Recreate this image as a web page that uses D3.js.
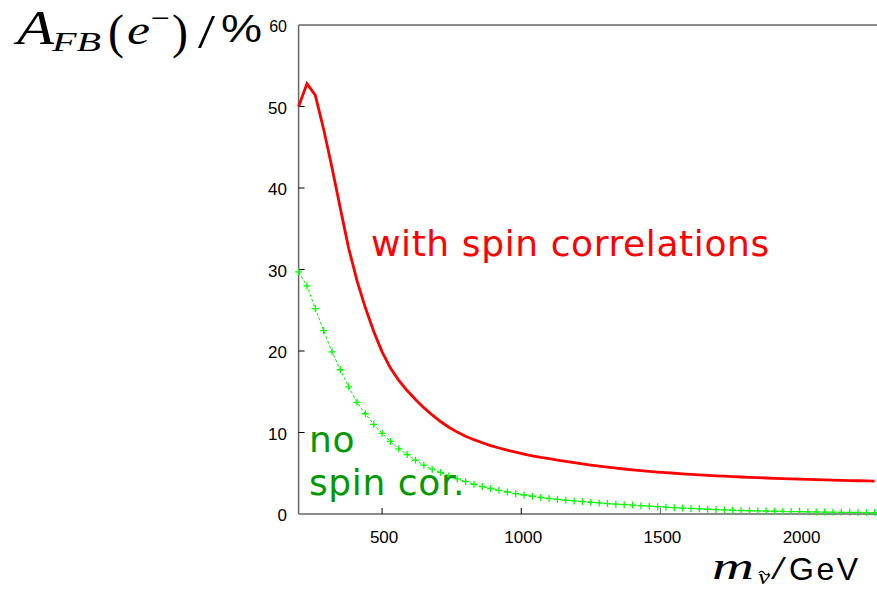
<!DOCTYPE html>
<html>
<head>
<meta charset="utf-8">
<script src="https://cdn.jsdelivr.net/npm/d3@7"></script>
<style>
  body { margin: 0; background: #fff; }
  svg { display: block; }
</style>
</head>
<body>
<svg id="chart" width="877" height="589"></svg>
<script>
// sneutrino mass grid (GeV), one point every 30 GeV
var masses = [200,230,260,290,320,350,380,410,440,470,500,530,560,590,620,650,680,710,740,770,
    800,830,860,890,920,950,980,1010,1040,1070,1100,1130,1160,1190,1220,1250,1280,1310,1340,1370,
    1400,1430,1460,1490,1520,1550,1580,1610,1640,1670,1700,1730,1760,1790,1820,1850,1880,1910,1940,1970,
    2000,2030,2060,2090,2120,2150,2180,2210,2240,2270];

// A_FB with spin correlations (%)
var withSpin = [50.0,52.8,51.4,47.2,42.5,37.5,32.6,28.6,25.3,22.4,19.9,17.9,16.4,15.15,14.05,13.05,12.15,11.35,10.65,10.05,
    9.55,9.12,8.74,8.4,8.1,7.83,7.58,7.35,7.14,6.95,6.8,6.62,6.45,6.3,6.15,6.0,5.87,5.75,5.63,5.52,
    5.42,5.32,5.23,5.15,5.07,5.0,4.93,4.87,4.81,4.75,4.69,4.64,4.59,4.54,4.5,4.46,4.42,4.38,4.34,4.3,
    4.27,4.24,4.21,4.18,4.15,4.12,4.1,4.08,4.06,4.04];

// A_FB without spin correlations (%)
var noSpin = [29.7,28.0,25.2,22.5,19.9,17.7,15.6,13.7,12.3,11.0,9.9,8.9,8.0,7.3,6.6,6.0,5.5,5.1,4.7,4.3,
    4.0,3.65,3.37,3.13,2.9,2.7,2.5,2.33,2.18,2.03,1.9,1.79,1.69,1.6,1.52,1.44,1.36,1.28,1.21,1.15,
    1.09,1.02,0.96,0.9,0.84,0.78,0.73,0.68,0.63,0.58,0.54,0.5,0.46,0.43,0.4,0.38,0.36,0.34,0.32,0.3,
    0.28,0.27,0.25,0.24,0.22,0.21,0.2,0.19,0.18,0.17];

var xTicks = [500, 1000, 1500, 2000];
var yTicks = [0, 10, 20, 30, 40, 50, 60];

var svg = d3.select('#chart');
var axisColor = '#666';
var sans = 'Liberation Sans, Arial, sans-serif';
var serif = 'Liberation Serif, Times New Roman, serif';

var xScale = d3.scaleLinear().domain([200, 2500]).range([298.6, 298.6 + 2300*0.2783]);
var yScale = d3.scaleLinear().domain([0, 60]).range([514, 25]);

// frame: left, bottom, top
svg.append('line').attr('x1', xScale(200)).attr('x2', xScale(200))
    .attr('y1', yScale(0)).attr('y2', yScale(60))
    .attr('stroke', axisColor).attr('stroke-width', 1.5);
svg.append('line').attr('x1', xScale(200)).attr('x2', 877)
    .attr('y1', yScale(0)).attr('y2', yScale(0))
    .attr('stroke', axisColor).attr('stroke-width', 1.5);
svg.append('line').attr('x1', xScale(200)).attr('x2', 877)
    .attr('y1', yScale(60)).attr('y2', yScale(60))
    .attr('stroke', axisColor).attr('stroke-width', 1.5);

// y ticks + labels
var yT = svg.append('g');
yT.selectAll('line').data(yTicks.slice(1, 6)).enter().append('line')
    .attr('x1', xScale(200)).attr('x2', xScale(200) + 6)
    .attr('y1', function(d){ return yScale(d); })
    .attr('y2', function(d){ return yScale(d); })
    .attr('stroke', '#000').attr('stroke-width', 1);
yT.selectAll('text').data(yTicks).enter().append('text')
    .attr('x', 287)
    .attr('y', function(d){ return yScale(d) + 7; })
    .attr('text-anchor', 'end')
    .style('font-family', sans)
    .style('font-size', function(d){ return d === 60 ? '16px' : '17px'; })
    .text(function(d){ return d; });

// x ticks + labels
var xT = svg.append('g');
xT.selectAll('line').data(xTicks).enter().append('line')
    .attr('x1', function(d){ return xScale(d); })
    .attr('x2', function(d){ return xScale(d); })
    .attr('y1', yScale(0)).attr('y2', yScale(0) - 6)
    .attr('stroke', function(d){ return d === 1500 ? axisColor : '#000'; })
    .attr('stroke-width', 1);
xT.selectAll('text').data(xTicks).enter().append('text')
    .attr('x', function(d){ return xScale(d) + 2; })
    .attr('y', 543)
    .attr('text-anchor', 'middle')
    .style('font-family', sans)
    .style('font-size', '17px')
    .text(function(d){ return d; });

var pts = function(vals){
    return masses.map(function(m, i){ return [m, vals[i]]; });
};
var line = d3.line()
    .x(function(d){ return xScale(d[0]); })
    .y(function(d){ return yScale(d[1]); });

// no spin correlations: dashed green with + markers
svg.append('path')
    .attr('d', line(pts(noSpin)))
    .attr('fill', 'none')
    .attr('stroke', '#00ee00')
    .attr('stroke-width', 1)
    .attr('stroke-dasharray', '3,2');
svg.append('g').selectAll('path').data(pts(noSpin)).enter().append('path')
    .attr('d', function(d){
        var x = xScale(d[0]), y = yScale(d[1]), r = 3.5;
        return 'M'+(x-r)+','+y+'H'+(x+r)+'M'+x+','+(y-r)+'V'+(y+r);
    })
    .attr('stroke', '#00ff00')
    .attr('stroke-width', 1.3);

// with spin correlations: thick red
svg.append('path')
    .attr('d', line(pts(withSpin)))
    .attr('fill', 'none')
    .attr('stroke', '#ff0000')
    .attr('stroke-width', 2.8)
    .attr('stroke-linejoin', 'miter');

// curve labels
var lab = function(x, y, col, s){
    svg.append('text')
        .attr('x', x).attr('y', y)
        .style('font-family', 'DejaVu Sans, sans-serif')
        .style('font-size', '36px')
        .style('letter-spacing', '0.6px')
        .attr('fill', col)
        .text(s);
};
lab(371, 256, '#ff0000', 'with spin correlations');
lab(309, 452, '#009900', 'no');
lab(309, 495, '#009900', 'spin cor.');

// helper for the math-style axis titles
var piece = function(g, s, x, y, size, italic, fam, len, spacing){
    var t = g.append('text').attr('x', x).attr('y', y)
        .style('font-family', fam).style('font-size', size + 'px')
        .style('font-style', italic ? 'italic' : 'normal')
        .text(s);
    if (len) t.attr('textLength', len).attr('lengthAdjust', 'spacingAndGlyphs');
    if (spacing) t.style('letter-spacing', spacing + 'px');
    return t;
};

// y axis title  A_FB(e^-)/%
var yt = svg.append('g');
piece(yt, 'A', 17, 44, 48, true, serif, 37);
piece(yt, 'FB', 52, 51, 28, true, serif, 49);
piece(yt, '(', 108, 48, 48, false, serif, 0);
piece(yt, 'e', 127, 44, 42, true, serif, 23);
piece(yt, '\u2212', 151, 28, 30, false, serif, 19);
piece(yt, ')', 172, 48, 48, false, serif, 0);
piece(yt, '/', 198, 48, 48, false, serif, 17);
piece(yt, '%', 221, 42, 38, false, sans, 41);

// x axis title  m_snu/GeV
var xt = svg.append('g');
piece(xt, 'm', 712, 579, 37, true, serif, 42);
piece(xt, '\u03BD', 758, 584, 22, true, serif, 12);
// tilde over the nu
xt.append('path')
    .attr('d', 'M759,573 q2.5,-3.5 5,0 t5,0')
    .attr('fill', 'none').attr('stroke', '#000').attr('stroke-width', 1.2);
piece(xt, '/', 771, 579, 34, false, serif, 15);
piece(xt, 'GeV', 789, 580, 32, false, sans, 0, 2.5);
</script>
</body>
</html>
